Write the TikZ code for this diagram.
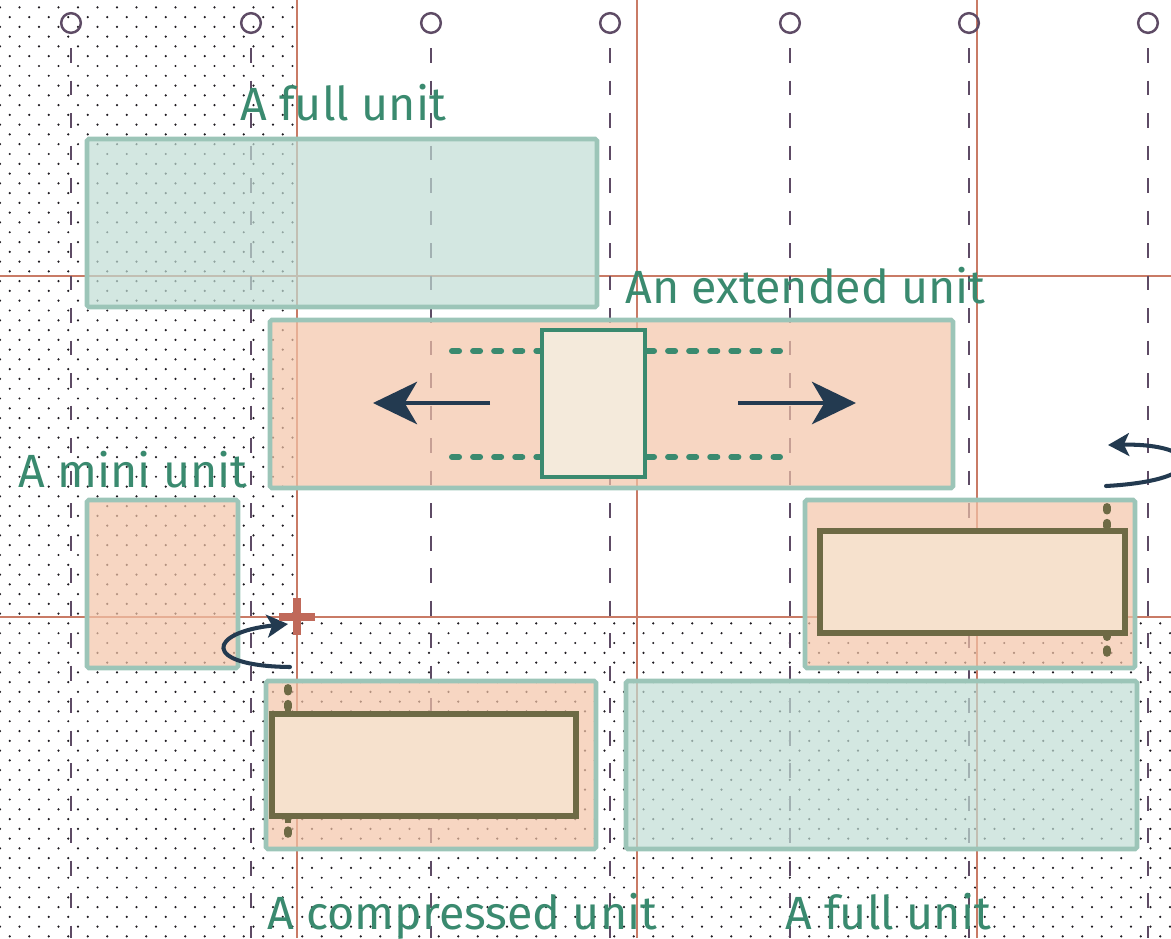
\documentclass[tikz,border=0pt]{standalone}
\usepackage{fontspec}
\setmainfont{Fira Sans}
\usetikzlibrary{arrows.meta}

\definecolor{gridred}{HTML}{C97B66}
\definecolor{guidecol}{HTML}{5E4B65}
\definecolor{dotcol}{HTML}{1E1A20}
\definecolor{tealfill}{HTML}{C0DDD4}
\definecolor{tealline}{HTML}{9CC5B8}
\definecolor{peachfill}{HTML}{F3C4A8}
\definecolor{creamfill}{HTML}{F6E1CD}
\definecolor{coreline}{HTML}{6E6A45}
\definecolor{unitgreen}{HTML}{3A8A6F}
\definecolor{centerfill}{HTML}{F4EADB}
\definecolor{navy}{HTML}{233A50}
\definecolor{plusred}{HTML}{C0695A}

\tikzset{
  unitbox/.style={draw=tealline, line width=2.6pt, rounded corners=1pt, fill opacity=0.7},
  fullunit/.style={unitbox, fill=tealfill},
  peachunit/.style={unitbox, fill=peachfill},
  corebox/.style={draw=coreline, line width=3pt, fill=creamfill},
  hinge/.style={coreline, line width=4.5pt, line cap=round, dash pattern=on 2pt off 7pt},
  rail/.style={unitgreen, line width=3.4pt, line cap=round, dash pattern=on 4pt off 8pt},
  unittext/.style={text=unitgreen, font=\fontsize{26.5}{30}\selectfont, anchor=base west, inner sep=0pt},
  guideline/.style={guidecol, line width=1.4pt, dash pattern=on 8.5pt off 10pt},
  push/.style={navy, line width=2.8pt, -{Stealth[length=25pt, width=24pt, inset=7pt]}},
  turn/.style={navy, line width=2.3pt, line cap=round, -{Stealth[length=12pt, width=13pt, inset=3pt]}}
}

\begin{document}
\begin{tikzpicture}[x=0.02cm, y=-0.02cm]

  \useasboundingbox (0,0) rectangle (1171,938);

  % dotted background (left strip and bottom band)
  \begin{scope}
    \clip (0,0) rectangle (297,938) (297,617) rectangle (1171,938);
    \foreach \r in {0,...,95} {
      \pgfmathsetmacro{\shift}{mod(\r,2)*9.75}
      \foreach \c in {0,...,60}
        \fill[dotcol] (\c*19.5+\shift, 7.3+\r*9.78) circle (0.7pt);
    }
  \end{scope}

  % red grid lines
  \foreach \x in {297,637,977}
    \draw[gridred, line width=0.9pt] (\x,0) -- (\x,938);
  \foreach \y in {276,617}
    \draw[gridred, line width=0.9pt] (0,\y) -- (1171,\y);

  % column guides
  \foreach \x in {71,251,431,610,790,969,1148} {
    \draw[guidecol, line width=1.4pt] (\x,23) circle (5.6pt);
    \draw[guideline] (\x,48) -- (\x,938);
  }

  % units
  \draw[fullunit] (87,139) rectangle (597,307);
  \draw[peachunit] (270,320) rectangle (953,488);
  \draw[peachunit] (87,500) rectangle (238,668);
  \draw[peachunit] (805,500) rectangle (1135,668);
  \draw[peachunit] (266,681) rectangle (596,849);
  \draw[fullunit] (626,681) rectangle (1137,849);

  % extended unit: rails, core and arrows
  \draw[rail] (452,351) -- (542,351);
  \draw[rail] (452,457) -- (542,457);
  \draw[rail] (647,351) -- (780,351);
  \draw[rail] (647,457) -- (780,457);
  \draw[draw=unitgreen, line width=2.8pt, fill=centerfill] (542,330) rectangle (645,477);

  \coordinate (L0) at (490,403);
  \coordinate (L1) at (373,403);
  \coordinate (R0) at (738,403);
  \coordinate (R1) at (856,403);
  \draw[push] (L0) -- (L1);
  \draw[push] (R0) -- (R1);

  % compressed cores with hinges
  \draw[hinge] (1107,507) -- (1107,665);
  \draw[corebox] (820,531) rectangle (1125,633);
  \draw[hinge] (288,688) -- (288,846);
  \draw[corebox] (272,714) rectangle (576,816);
  \draw[coreline, line width=3pt] (1107,531) -- (1107,524) (1107,633) -- (1107,640);
  \draw[coreline, line width=3pt] (288,714) -- (288,707) (288,816) -- (288,823);

  % turn arrows
  \coordinate (T0) at (290,667);
  \coordinate (T1) at (288,624);
  \draw[turn] (T0) .. controls (200,666) and (208,632) .. (T1);
  \coordinate (U0) at (1106,486);
  \coordinate (U1) at (1108,445);
  \draw[turn] (U0) .. controls (1215,480) and (1200,443) .. (U1);

  % origin mark
  \draw[plusred, line width=4.5pt] (279,617) -- (315,617) (297,598) -- (297,635);

  % labels
  \node[unittext] (top) at (240,120) {A full unit};
  \node[unittext] (ext) at (625,303) {An extended unit};
  \node[unittext] (mini) at (18,487) {A mini unit};
  \node[unittext] (comp) at (267,929) {A compressed unit};
  \node[unittext] (full) at (785,929) {A full unit};

\end{tikzpicture}
\end{document}
